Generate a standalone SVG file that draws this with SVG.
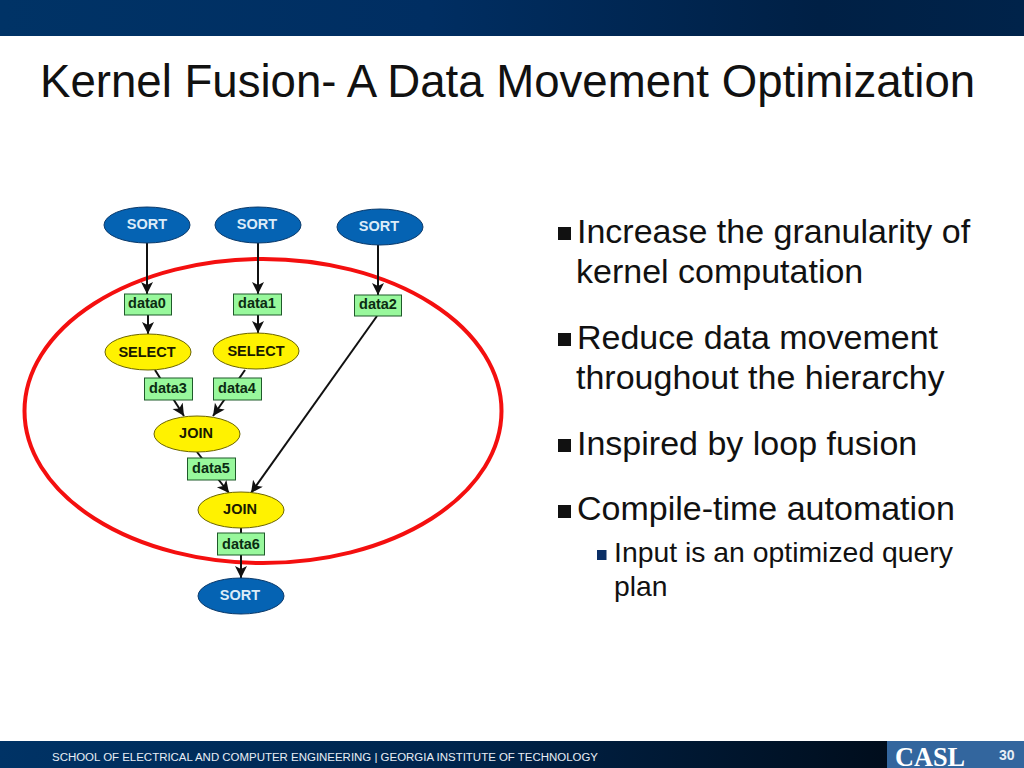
<svg xmlns="http://www.w3.org/2000/svg" width="1024" height="768" viewBox="0 0 1024 768">
<style>
text{font-family:"Liberation Sans",Arial,sans-serif}
.t{font-size:45.6px;fill:#111}
.b{font-size:34px;fill:#111}
.s{font-size:28.300px;fill:#111}
.n{font-size:14.500px;font-weight:bold;text-anchor:middle}
.sort ellipse{fill:#0563b3;stroke:#0b3a6b;stroke-width:1}
.sort text{fill:#dcecf8}
.op ellipse{fill:#fff200;stroke:#6b6400;stroke-width:1}
.op text{fill:#1a1a00}
.d rect{fill:#98f89c;stroke:#1f5a2a;stroke-width:1}
.d text{fill:#0b2c12}
.c line{stroke:#111;stroke-width:2;marker-end:url(#a)}
</style>
<defs>
<marker id="a" markerUnits="userSpaceOnUse" markerWidth="14" markerHeight="14" refX="12" refY="6" orient="auto"><path d="M0 0L12 6L0 12L3 6Z" fill="#111"/></marker>
<linearGradient id="g" x1="0" x2="1" y1="0" y2="0"><stop offset="0" stop-color="#003366"/><stop offset=".42" stop-color="#002e62"/><stop offset=".8" stop-color="#002045"/><stop offset="1" stop-color="#00234a"/></linearGradient>
<linearGradient id="f" x1="0" x2="1" y1="0" y2="0"><stop offset="0" stop-color="#003366"/><stop offset=".5" stop-color="#00254d"/><stop offset="1" stop-color="#000d1c"/></linearGradient>
</defs>
<rect width="1024" height="768" fill="#fff"/>
<rect id="topbar" width="1024" height="36" fill="url(#g)"/>
<text class="t" x="40" y="97">Kernel Fusion- A Data Movement Optimization</text>
<ellipse id="fusion" cx="263" cy="411" rx="238.500" ry="152" fill="none" stroke="#f40f0f" stroke-width="4"/>
<g id="connectors" class="c">
<line x1="147" y1="243" x2="147" y2="294"/>
<line x1="258" y1="243" x2="258" y2="294"/>
<line x1="378" y1="245" x2="378" y2="295"/>
<line x1="148" y1="315" x2="148" y2="334"/>
<line x1="258" y1="315" x2="258" y2="333"/>
<line x1="155" y1="370" x2="184" y2="416"/>
<line x1="245" y1="370" x2="213" y2="416"/>
<line x1="377" y1="316" x2="251" y2="493"/>
<line x1="197" y1="452" x2="229" y2="493"/>
<line x1="241" y1="528" x2="241" y2="578"/>
</g>
<g id="sort1" class="sort"><ellipse cx="147" cy="225" rx="43" ry="18"/><text class="n" x="147" y="229">SORT</text></g>
<g id="sort2" class="sort"><ellipse cx="258" cy="225" rx="43" ry="18"/><text class="n" x="257" y="229">SORT</text></g>
<g id="sort3" class="sort"><ellipse cx="380" cy="227" rx="43" ry="18"/><text class="n" x="379" y="231">SORT</text></g>
<g id="data0" class="d"><rect x="124.500" y="294" width="47" height="21"/><text class="n" x="147" y="308">data0</text></g>
<g id="data1" class="d"><rect x="233.500" y="294" width="48" height="21"/><text class="n" x="257" y="308">data1</text></g>
<g id="data2" class="d"><rect x="354.500" y="295" width="47" height="21"/><text class="n" x="378" y="309">data2</text></g>
<g id="select1" class="op"><ellipse cx="148" cy="352" rx="43" ry="18"/><text class="n" x="147" y="357">SELECT</text></g>
<g id="select2" class="op"><ellipse cx="256" cy="351" rx="43" ry="18"/><text class="n" x="256" y="356">SELECT</text></g>
<g id="data3" class="d"><rect x="144.500" y="378" width="48" height="22"/><text class="n" x="168" y="393">data3</text></g>
<g id="data4" class="d"><rect x="213.500" y="378" width="48" height="22"/><text class="n" x="237" y="393">data4</text></g>
<g id="join1" class="op"><ellipse cx="197" cy="434" rx="43" ry="18"/><text class="n" x="196" y="438">JOIN</text></g>
<g id="data5" class="d"><rect x="187.500" y="458" width="48" height="22"/><text class="n" x="211" y="473">data5</text></g>
<g id="join2" class="op"><ellipse cx="241" cy="510" rx="43" ry="18"/><text class="n" x="240" y="514">JOIN</text></g>
<g id="data6" class="d"><rect x="217.500" y="533" width="47" height="22"/><text class="n" x="241" y="549">data6</text></g>
<g id="sort4" class="sort"><ellipse cx="241" cy="596" rx="43" ry="18"/><text class="n" x="240" y="600">SORT</text></g>
<rect x="558" y="227" width="13" height="13" fill="#111"/>
<text class="b" x="577" y="243">Increase the granularity of</text>
<text class="b" x="576" y="283">kernel computation</text>
<rect x="558" y="333" width="13" height="13" fill="#111"/>
<text class="b" x="577" y="349">Reduce data movement</text>
<text class="b" x="576" y="389">throughout the hierarchy</text>
<rect x="558" y="439" width="13" height="13" fill="#111"/>
<text class="b" x="577" y="455">Inspired by loop fusion</text>
<rect x="558" y="505" width="13" height="13" fill="#111"/>
<text class="b" x="577" y="520">Compile-time automation</text>
<rect x="597" y="550" width="9.500" height="10" fill="#0b2f66"/>
<text class="s" x="614" y="562" textLength="339" lengthAdjust="spacingAndGlyphs">Input is an optimized query</text>
<text class="s" x="614" y="596">plan</text>
<rect id="bottombar" y="741" width="888" height="27" fill="url(#f)"/>
<rect x="887" y="741" width="137" height="27" fill="#33669e"/>
<text x="52" y="761" font-size="11.460" fill="#e8eef5">SCHOOL OF ELECTRICAL AND COMPUTER ENGINEERING | GEORGIA INSTITUTE OF TECHNOLOGY</text>
<text x="895" y="766" font-size="28" font-weight="bold" fill="#fff" textLength="70" lengthAdjust="spacingAndGlyphs" style="font-family:'Liberation Serif',serif">CASL</text>
<text x="999" y="760" font-size="14" font-weight="bold" fill="#e8eef5">30</text>
</svg>
